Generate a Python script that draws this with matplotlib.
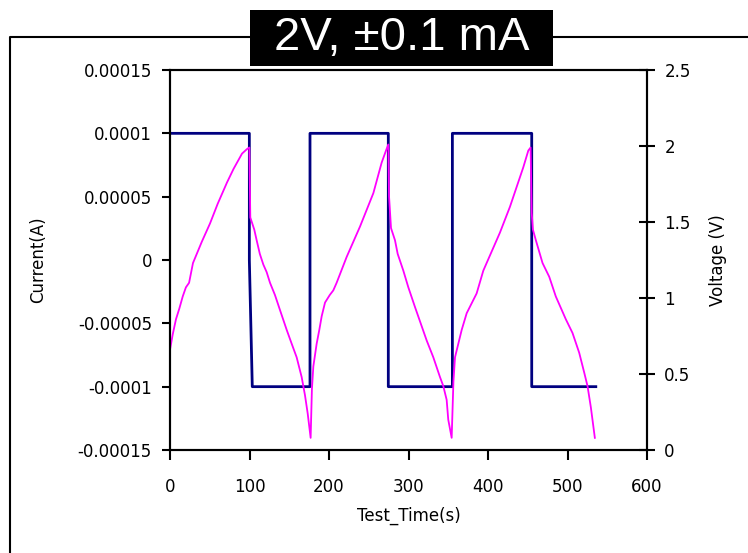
import matplotlib
matplotlib.use('Agg')
import matplotlib.pyplot as plt
from matplotlib.patches import Rectangle
from matplotlib.lines import Line2D

# current (A) vs test time (s), square wave
time_i = [0, 99.8, 99.8, 103.5, 176.1, 176.1, 274.6, 274.6, 355.2, 355.2, 455.0, 455.0, 535.6]
current = [1e-4, 1e-4, 0, -1e-4, -1e-4, 1e-4, 1e-4, -1e-4, -1e-4, 1e-4, 1e-4, -1e-4, -1e-4]

# voltage (V) vs test time (s)
time_v = [0, 3.4, 7.5, 11.7, 16, 20, 24, 28.9, 40, 50.3, 60, 71.7, 80, 90.6, 96.9, 99.8,
          101, 106, 109, 113, 117.4, 121.6, 125.8, 132, 138.4, 146.8, 153, 159.3, 165.6,
          169.8, 173.2, 176.9, 178.5, 180.3, 184.5, 187.8, 190.8, 195, 201, 205.4, 209.6,
          222.2, 239, 255.8, 266.2, 271.7, 274.6, 275.5, 278, 283, 286.4, 293.5, 299.8,
          308.2, 322.9, 331.2, 339.6, 343.8, 348, 350, 354.3, 356.5, 358.5, 362.7, 366.9,
          373.2, 385.7, 394.1, 415, 427.6, 436, 444.4, 450.7, 453.6, 455, 456.5, 460.2,
          468.6, 477, 485.3, 497.9, 506.3, 514.7, 521, 525.2, 529.4, 534.4]
voltage = [0.66, 0.76, 0.86, 0.93, 1.01, 1.07, 1.10, 1.23, 1.37, 1.49, 1.62, 1.76, 1.85, 1.95, 1.98, 1.99,
           1.53, 1.45, 1.38, 1.29, 1.22, 1.17, 1.10, 1.02, 0.92, 0.79, 0.70, 0.61, 0.48,
           0.36, 0.24, 0.08, 0.40, 0.55, 0.70, 0.79, 0.88, 0.97, 1.02, 1.05, 1.10,
           1.27, 1.47, 1.69, 1.89, 1.97, 2.01, 1.67, 1.46, 1.38, 1.29, 1.18, 1.07,
           0.94, 0.72, 0.61, 0.48, 0.42, 0.33, 0.20, 0.08, 0.45, 0.61, 0.70, 0.79,
           0.90, 1.03, 1.18, 1.43, 1.60, 1.73, 1.86, 1.97, 1.99, 1.56, 1.45, 1.38,
           1.23, 1.14, 1.01, 0.86, 0.77, 0.64, 0.51, 0.42, 0.28, 0.08]

x_ticks = [0, 100, 200, 300, 400, 500, 600]
i_ticks = [-0.00015, -0.0001, -0.00005, 0, 0.00005, 0.0001, 0.00015]
i_labels = ['-0.00015', '-0.0001', '-0.00005', '0', '0.00005', '0.0001', '0.00015']
v_ticks = [0, 0.5, 1, 1.5, 2, 2.5]
v_labels = ['0', '0.5', '1', '1.5', '2', '2.5']

title = '2V, \u00b10.1 mA'

fig = plt.figure(figsize=(7.48, 5.53), dpi=100)
ax = fig.add_axes([170 / 748, 1 - 450 / 553, 477 / 748, 380 / 553])
ax2 = ax.twinx()

ax.plot(time_i, current, color='#000080', lw=2)
ax2.plot(time_v, voltage, color='#FF00FF', lw=1.3)

ax.set_xlim(0, 600)
ax.set_ylim(-0.00015, 0.00015)
ax2.set_ylim(0, 2.5)
ax.set_xticks(x_ticks)
ax.set_yticks(i_ticks)
ax.set_yticklabels(i_labels)
ax2.set_yticks(v_ticks)
ax2.set_yticklabels(v_labels)

for a in (ax, ax2):
    for s in a.spines.values():
        s.set_linewidth(1.5)
ax.tick_params(axis='x', direction='out', length=7, width=1.5, pad=13, labelsize=12)
ax.tick_params(axis='y', direction='out', length=6, width=1.5, pad=7, labelsize=12)
ax2.tick_params(axis='y', direction='inout', length=11, width=1.5, pad=7, labelsize=12)

ax.set_xlabel('Test_Time(s)', fontsize=12, labelpad=8)
ax.set_ylabel('Current(A)', fontsize=12, labelpad=22)
ax2.set_ylabel('Voltage (V)', fontsize=12, labelpad=13)

# outer chart frame
fig.add_artist(Line2D([10 / 748, 10 / 748, 1.0], [0.0, 1 - 37 / 553, 1 - 37 / 553],
                      transform=fig.transFigure, color='black', lw=1.5))
# title box
fig.add_artist(Rectangle((250 / 748, 1 - 66 / 553), 303 / 748, 56 / 553,
                         transform=fig.transFigure, facecolor='black', edgecolor='none', zorder=5))
fig.text(401.5 / 748, 1 - 38 / 553, title, color='white', fontsize=34,
         family='Liberation Sans', ha='center', va='center', zorder=6)

fig.savefig('out.png', dpi=100)
